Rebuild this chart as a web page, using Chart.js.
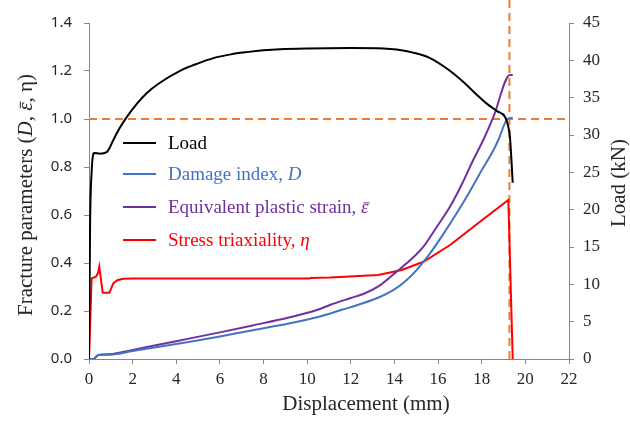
<!DOCTYPE html>
<html>
<head>
<meta charset="utf-8">
<script src="https://cdn.jsdelivr.net/npm/chart.js@4.4.1/dist/chart.umd.min.js"></script>
<style>
  body { margin: 0; background: #fff; }
  canvas { display: block; }
</style>
</head>
<body>
<canvas id="fractureChart" width="630" height="423"></canvas>
<script>
// Load curve (displacement in mm, load in kN, right axis)
const loadX = [0, 0.05, 0.12, 0.23, 0.5, 0.81, 0.95, 1.11, 1.4, 1.73, 2.2, 2.64, 3.2, 4.17, 5.0, 5.7, 6.5, 7.23, 8.0, 8.75, 10, 12, 13.5, 14.1, 14.9, 15.63, 16.4, 17.16, 17.7, 18.23, 18.7, 19.07, 19.22, 19.3, 19.42];
const loadY = [0, 18, 25, 27.6, 27.5, 27.7, 28.3, 29.3, 30.9, 32.4, 34.2, 35.6, 36.9, 38.6, 39.6, 40.3, 40.8, 41.1, 41.35, 41.5, 41.6, 41.65, 41.6, 41.45, 41.0, 40.3, 38.9, 37.1, 35.6, 34.2, 33.2, 32.4, 31.1, 29.5, 23.6];

// Damage index D (left axis)
const damageX = [0, 0.2, 0.43, 0.96, 2, 3, 4.63, 6, 7.5, 9.21, 10.44, 11.66, 11.96, 13.19, 14.0, 14.56, 15.1, 15.63, 16.2, 16.85, 17.4, 17.92, 18.54, 18.76, 19.14, 19.3, 19.42];
const damageY = [0, 0, 0.017, 0.018, 0.033, 0.048, 0.072, 0.094, 0.12, 0.149, 0.174, 0.207, 0.215, 0.253, 0.29, 0.329, 0.38, 0.44, 0.515, 0.607, 0.69, 0.774, 0.871, 0.9125, 0.996, 1.003, 1.005];

// Equivalent plastic strain (left axis)
const strainX = [0, 0.2, 0.43, 0.96, 2, 3, 4.63, 6, 7.5, 9.21, 10.44, 11.04, 11.96, 12.57, 13.3, 14.1, 14.7, 15.33, 15.9, 16.55, 17.1, 17.61, 18.07, 18.54, 19.3, 19.42];
const strainY = [0, 0, 0.017, 0.02, 0.038, 0.056, 0.086, 0.111, 0.14, 0.174, 0.204, 0.225, 0.253, 0.271, 0.305, 0.364, 0.41, 0.468, 0.545, 0.635, 0.73, 0.829, 0.9125, 1.01, 1.183, 1.183];

// Stress triaxiality (left axis)
const triaxX = [0, 0.12, 0.32, 0.42, 0.47, 0.63, 0.93, 1.0, 1.11, 1.3, 1.57, 2, 5, 10.1, 10.15, 11.04, 13.26, 14.33, 15.33, 16.55, 17.92, 19.22, 19.42];
const triaxY = [0, 0.336, 0.343, 0.36, 0.385, 0.276, 0.276, 0.29, 0.315, 0.328, 0.334, 0.335, 0.335, 0.335, 0.338, 0.34, 0.35, 0.371, 0.405, 0.475, 0.572, 0.6625, 0];

// Reference dashed lines
const criticalD = 1.0;
const fractureDisp = 19.27;

const xTicks = { min: 0, max: 22, step: 2 };
const leftTicks = { min: 0, max: 1.4, step: 0.2 };
const rightTicks = { min: 0, max: 45, step: 5 };

const SERIF = "'Liberation Serif', 'Times New Roman', serif";
const SANS = "'Noto Sans', 'Liberation Sans', sans-serif";
const AXIS_GREY = "#868686";
const ORANGE = "#ED7D31";

function pts(xs, ys) {
  return xs.map((x, i) => ({ x: x, y: ys[i] }));
}

// [text, italic, overbar]
const legendItems = [
  { color: "#000000", parts: [["Load", false]] },
  { color: "#4472C4", parts: [["Damage index, ", false], ["D", true]] },
  { color: "#7030A0", parts: [["Equivalent plastic strain, ", false], ["\u03B5", true, true]] },
  { color: "#FF0000", parts: [["Stress triaxiality, ", false], ["\u03B7", true]] },
];

// draw a run of text pieces, some italic, some with a bar on top
function drawParts(ctx, parts, x, y, size, color) {
  ctx.fillStyle = color;
  ctx.strokeStyle = color;
  parts.forEach(function (p) {
    ctx.font = (p[1] ? "italic " : "") + size + "px " + SERIF;
    ctx.fillText(p[0], x, y);
    const w = ctx.measureText(p[0]).width;
    if (p[2]) {
      ctx.lineWidth = 1;
      ctx.beginPath();
      ctx.moveTo(x + size * 0.12, y - size * 0.27);
      ctx.lineTo(x + w + size * 0.05, y - size * 0.27);
      ctx.stroke();
    }
    x += w;
  });
}

function partsWidth(ctx, parts, size) {
  let w = 0;
  parts.forEach(function (p) {
    ctx.font = (p[1] ? "italic " : "") + size + "px " + SERIF;
    w += ctx.measureText(p[0]).width;
  });
  return w;
}

const annotationsPlugin = {
  id: "customText",
  afterDraw: function (chart) {
    const ctx = chart.ctx;
    ctx.save();
    ctx.textBaseline = "middle";
    ctx.textAlign = "left";

    // legend inside the plot
    const rowsY = [143, 174, 207, 240];
    legendItems.forEach(function (item, i) {
      ctx.strokeStyle = item.color;
      ctx.lineWidth = 2;
      ctx.beginPath();
      ctx.moveTo(123, rowsY[i]);
      ctx.lineTo(156, rowsY[i]);
      ctx.stroke();
      drawParts(ctx, item.parts, 168, rowsY[i] + 1, 19, item.color);
    });

    // x title
    const xTitle = [["Displacement (mm)", false]];
    let w = partsWidth(ctx, xTitle, 21);
    drawParts(ctx, xTitle, 366 - w / 2, 404, 21, "#262626");

    // left y title
    const leftTitle = [["Fracture parameters (", false], ["D", true], [", ", false], ["\u03B5", true, true], [", \u03B7)", false]];
    ctx.save();
    ctx.translate(26, 195);
    ctx.rotate(-Math.PI / 2);
    w = partsWidth(ctx, leftTitle, 21);
    drawParts(ctx, leftTitle, -w / 2, 0, 21, "#262626");
    ctx.restore();

    // right y title
    const rightTitle = [["Load (kN)", false]];
    ctx.save();
    ctx.translate(619, 183);
    ctx.rotate(-Math.PI / 2);
    w = partsWidth(ctx, rightTitle, 21);
    drawParts(ctx, rightTitle, -w / 2, 0, 21, "#262626");
    ctx.restore();

    ctx.restore();
  },
};

const lineStyle = {
  showLine: true,
  pointRadius: 0,
  borderWidth: 2,
  fill: false,
  cubicInterpolationMode: "monotone",
};

new Chart(document.getElementById("fractureChart"), {
  type: "scatter",
  data: {
    datasets: [
      Object.assign({}, lineStyle, { label: "Load", data: pts(loadX, loadY), borderColor: "#000000", yAxisID: "yLoad", order: 1 }),
      Object.assign({}, lineStyle, { label: "Damage index, D", data: pts(damageX, damageY), borderColor: "#4472C4", yAxisID: "y", order: 2 }),
      Object.assign({}, lineStyle, { label: "Equivalent plastic strain", data: pts(strainX, strainY), borderColor: "#7030A0", yAxisID: "y", order: 2 }),
      Object.assign({}, lineStyle, { label: "Stress triaxiality", data: pts(triaxX, triaxY), borderColor: "#FF0000", yAxisID: "y", order: 2, cubicInterpolationMode: "default", tension: 0 }),
      {
        label: "D = 1",
        data: [{ x: xTicks.min, y: criticalD }, { x: xTicks.max, y: criticalD }],
        showLine: true, pointRadius: 0, borderColor: ORANGE, borderWidth: 2, borderDash: [8, 5],
        yAxisID: "y", order: 5,
      },
      {
        label: "Fracture",
        data: [{ x: fractureDisp, y: leftTicks.min }, { x: fractureDisp, y: 1.5 }],
        showLine: true, pointRadius: 0, borderColor: ORANGE, borderWidth: 2, borderDash: [8, 5],
        yAxisID: "y", order: 5, clip: false,
      },
    ],
  },
  options: {
    responsive: false,
    animation: false,
    layout: { padding: { top: 23, left: 0, right: 0, bottom: 0 } },
    plugins: {
      legend: { display: false },
      tooltip: { enabled: false },
    },
    scales: {
      x: {
        type: "linear",
        min: xTicks.min,
        max: xTicks.max,
        afterFit: function (scale) { scale.height = 64; },
        ticks: {
          stepSize: xTicks.step,
          padding: 5,
          color: "#262626",
          font: { family: SERIF, size: 17 },
        },
        grid: { drawOnChartArea: false, drawTicks: true, tickLength: 5, color: AXIS_GREY },
        border: { color: AXIS_GREY, width: 1 },
      },
      y: {
        position: "left",
        min: leftTicks.min,
        max: leftTicks.max,
        afterFit: function (scale) { scale.width = 89; },
        ticks: {
          stepSize: leftTicks.step,
          padding: 12,
          color: "#262626",
          font: { family: SANS, size: 15 },
          callback: function (value) { return value.toFixed(1); },
        },
        grid: { drawOnChartArea: false, drawTicks: true, tickLength: 5, color: AXIS_GREY },
        border: { color: AXIS_GREY, width: 1 },
      },
      yLoad: {
        position: "right",
        min: rightTicks.min,
        max: rightTicks.max,
        afterFit: function (scale) { scale.width = 61; },
        ticks: {
          stepSize: rightTicks.step,
          padding: 9,
          color: "#262626",
          font: { family: SERIF, size: 17 },
        },
        grid: { drawOnChartArea: false, drawTicks: true, tickLength: 5, color: AXIS_GREY },
        border: { color: AXIS_GREY, width: 1 },
      },
    },
  },
  plugins: [annotationsPlugin],
});
</script>
</body>
</html>
